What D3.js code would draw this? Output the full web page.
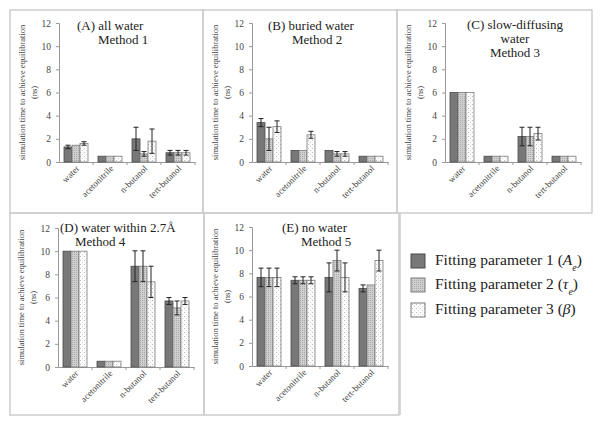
<!DOCTYPE html>
<html>
<head>
<meta charset="utf-8">
<script src="https://cdn.jsdelivr.net/npm/d3@7"></script>
<style>
body{margin:0;background:#fff;}
text{font-family:"Liberation Serif","Times New Roman",serif;fill:#222;}
.tick text{font-size:9.5px;fill:#444;}
</style>
</head>
<body>
<svg id="chart" width="602" height="428"></svg>
<script>
// categories and series
var categories = ["water","acetonitrile","n-butanol","tert-butanol"];
var params = ["p1","p2","p3"];
var yTicks = [0,2,4,6,8,10,12];

// values per panel: [category][parameter]
var valuesA = [[1.3,1.45,1.6],[0.5,0.5,0.5],[2.0,0.7,1.8],[0.8,0.8,0.8]];
var errorsA = [[0.15,0,0.15],[0,0,0],[1.0,0.2,1.05],[0.2,0.2,0.2]];
var valuesB = [[3.4,2.0,3.05],[1.0,1.0,2.35],[1.0,0.7,0.7],[0.5,0.5,0.5]];
var errorsB = [[0.35,1.0,0.5],[0,0,0.3],[0,0.2,0.2],[0,0,0]];
var valuesC = [[6,6,6],[0.5,0.5,0.5],[2.2,2.2,2.45],[0.5,0.5,0.5]];
var errorsC = [[0,0,0],[0,0,0],[0.8,0.8,0.55],[0,0,0]];
var valuesD = [[10,10,10],[0.5,0.5,0.5],[8.7,8.7,7.35],[5.7,5.1,5.7]];
var errorsD = [[0,0,0],[0,0,0],[1.33,1.33,1.35],[0.3,0.6,0.3]];
var valuesE = [[7.65,7.65,7.65],[7.4,7.4,7.4],[7.65,9.1,7.65],[6.7,7.0,9.1]];
var errorsE = [[0.8,0.8,0.8],[0.3,0.3,0.3],[1.25,0.9,1.25],[0.3,0,0.9]];

var titlesA = ["(A) all water","Method 1"];
var titlesB = ["(B) buried water","Method 2"];
var titlesC = ["(C) slow-diffusing","water","Method 3"];
var titlesD = ["(D) water within 2.7Å","Method 4"];
var titlesE = ["(E) no water","Method 5"];

var svg = d3.select("#chart");
var defs = svg.append("defs");

//patterns for parameter 2 and 3
var p2 = defs.append("pattern").attr("id","pat2").attr("patternUnits","userSpaceOnUse")
    .attr("width",2).attr("height",2);
p2.append("rect").attr("width",2).attr("height",2).attr("fill","#cfcfcf");
p2.append("rect").attr("width",1).attr("height",1).attr("fill","#a9a9a9");
var p3 = defs.append("pattern").attr("id","pat3").attr("patternUnits","userSpaceOnUse")
    .attr("width",4).attr("height",4);
p3.append("rect").attr("width",4).attr("height",4).attr("fill","#fbfbfb");
p3.append("rect").attr("x",0).attr("y",0).attr("width",1).attr("height",1).attr("fill","#bdbdbd");
p3.append("rect").attr("x",2).attr("y",2).attr("width",1).attr("height",1).attr("fill","#d4d4d4");

var fills = {p1:"#787878",p2:"url(#pat2)",p3:"url(#pat3)"};
var strokes = {p1:"#4a4a4a",p2:"#7a7a7a",p3:"#7a7a7a"};

//panel borders
var borderColour = "#cdcdcd";
var boxes = [[10,10,203,213],[203,10,397,213],[397,10,592,213],[10,213,204,415],[204,213,399,415]];
boxes.forEach(function(b){
  svg.append("rect").attr("x",b[0]).attr("y",b[1]).attr("width",b[2]-b[0]).attr("height",b[3]-b[1])
    .attr("fill","none").attr("stroke",borderColour).attr("stroke-width",1.5);
});

var panels = [
  {values:valuesA,errors:errorsA,titles:titlesA,ax:59,y0:162,tl:[[77,30,"start"],[98,44,"start"]]},
  {values:valuesB,errors:errorsB,titles:titlesB,ax:252,y0:162,tl:[[268,30,"start"],[292,44,"start"]]},
  {values:valuesC,errors:errorsC,titles:titlesC,ax:445,y0:162,tl:[[515,29,"middle"],[515,43,"middle"],[515,57,"middle"]]},
  {values:valuesD,errors:errorsD,titles:titlesD,ax:58,y0:367,tl:[[60,232,"start"],[75,246,"start"]]},
  {values:valuesE,errors:errorsE,titles:titlesE,ax:252,y0:366,tl:[[282,232,"start"],[301,246,"start"]]}
];

panels.forEach(function(p){ drawPanel(p); });

function drawPanel(p){
  var g = svg.append("g");
  var y = d3.scaleLinear().domain([0,12]).range([p.y0,p.y0-139]);
  var x = d3.scaleBand().domain(categories).range([p.ax,p.ax+136]);
  var xs = d3.scaleBand().domain(params).range([5,29]);

  //y axis
  var ya = g.append("g").attr("transform","translate("+p.ax+",0)")
    .call(d3.axisLeft(y).tickValues(yTicks).tickSize(3).tickPadding(5));
  ya.select(".domain").attr("stroke","#999");
  ya.selectAll(".tick line").attr("stroke","#999");

  //x axis line and boundary ticks
  var xa = g.append("g").attr("transform","translate(0,"+p.y0+")")
    .call(d3.axisBottom(x).tickSize(0).tickFormat(""));
  xa.select(".domain").attr("stroke","#999");
  categories.forEach(function(c,i){
    if(i==0) return;
    g.append("line").attr("x1",x(c)).attr("x2",x(c)).attr("y1",p.y0).attr("y2",p.y0+3).attr("stroke","#999");
  });
  g.append("line").attr("x1",p.ax+136).attr("x2",p.ax+136).attr("y1",p.y0).attr("y2",p.y0+3).attr("stroke","#999");

  //category labels
  categories.forEach(function(c){
    var cx = x(c)+x.bandwidth()/2+4, cy = p.y0+7;
    g.append("text").attr("transform","translate("+cx+","+cy+") rotate(-45)")
      .attr("text-anchor","end").style("font-size","9px").style("fill","#444").text(c);
  });

  //y axis label
  var my = (y(0)+y(12))/2;
  g.append("text").attr("transform","translate("+(p.ax-34)+","+my+") rotate(-90)")
    .attr("text-anchor","middle").style("font-size","8.5px").style("fill","#444")
    .text("simulation time to achieve equilibration");
  g.append("text").attr("transform","translate("+(p.ax-22)+","+my+") rotate(-90)")
    .attr("text-anchor","middle").style("font-size","8.5px").style("fill","#444").text("(ns)");

  //bars
  categories.forEach(function(c,i){
    params.forEach(function(k,j){
      var v = p.values[i][j], e = p.errors[i][j];
      var bx = x(c)+xs(k);
      g.append("rect").attr("x",bx).attr("y",y(v)).attr("width",xs.bandwidth()).attr("height",y(0)-y(v))
        .attr("fill",fills[k]).attr("stroke",strokes[k]).attr("stroke-width",0.8);
      if(e>0){
        var ex = bx+xs.bandwidth()/2;
        g.append("line").attr("x1",ex).attr("x2",ex).attr("y1",y(v+e)).attr("y2",y(v-e))
          .attr("stroke","#222").attr("stroke-width",1);
        [v+e,v-e].forEach(function(t){
          g.append("line").attr("x1",ex-2.5).attr("x2",ex+2.5).attr("y1",y(t)).attr("y2",y(t))
            .attr("stroke","#222").attr("stroke-width",1);
        });
      }
    });
  });

  //titles
  p.titles.forEach(function(t,i){
    g.append("text").attr("x",p.tl[i][0]).attr("y",p.tl[i][1]).attr("text-anchor",p.tl[i][2])
      .style("font-size","13px").text(t);
  });
}

//legend
svg.append("line").attr("x1",400).attr("x2",400).attr("y1",213).attr("y2",415)
  .attr("stroke",borderColour).attr("stroke-width",1.5);
var legendY = [254,278,303];
var leg = svg.append("g");
params.forEach(function(k,i){
  leg.append("rect").attr("x",411).attr("y",legendY[i]).attr("width",14).attr("height",14)
    .attr("fill",fills[k]).attr("stroke",strokes[k]).attr("stroke-width",1);
});
var l1 = leg.append("text").attr("x",435).attr("y",legendY[0]+11).style("font-size","15.5px");
l1.append("tspan").text("Fitting parameter 1 (");
l1.append("tspan").style("font-style","italic").text("A");
l1.append("tspan").attr("baseline-shift","sub").style("font-size","10px").style("font-style","italic").text("e");
l1.append("tspan").text(")");
var l2 = leg.append("text").attr("x",435).attr("y",legendY[1]+11).style("font-size","15.5px");
l2.append("tspan").text("Fitting parameter 2 (");
l2.append("tspan").style("font-style","italic").text("τ");
l2.append("tspan").attr("baseline-shift","sub").style("font-size","10px").style("font-style","italic").text("e");
l2.append("tspan").text(")");
var l3 = leg.append("text").attr("x",435).attr("y",legendY[2]+11).style("font-size","15.5px");
l3.append("tspan").text("Fitting parameter 3 (");
l3.append("tspan").style("font-style","italic").text("β");
l3.append("tspan").text(")");
</script>
</body>
</html>
